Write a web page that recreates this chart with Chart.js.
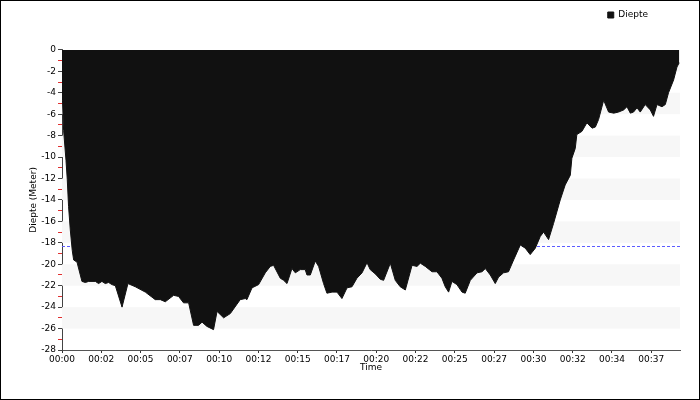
<!DOCTYPE html>
<html>
<head>
<meta charset="utf-8">
<script src="https://cdn.jsdelivr.net/npm/chart.js@4"></script>
<style>
  html, body { margin: 0; padding: 0; background: #fff; }
</style>
</head>
<body>
<canvas id="chart" width="700" height="400"></canvas>
<script>
// Dive profile, time in minutes, depth in meters.
const times = [
  0, 0.02, 0.04, 0.10, 0.25, 0.33, 0.41, 0.52, 0.64, 0.73,
  0.94, 1.25, 1.46, 1.67, 2.09, 2.29, 2.50, 2.71, 2.92, 3.13,
  3.34, 3.76, 4.13, 4.59, 5.22, 5.84, 6.16, 6.47, 6.99, 7.30,
  7.61, 7.93, 8.24, 8.55, 8.77, 9.08, 9.49, 9.71, 10.12, 10.54,
  11.16, 11.48, 11.58, 11.90, 12.31, 12.73, 13.04, 13.25, 13.67, 13.88,
  14.09, 14.40, 14.61, 14.92, 15.23, 15.34, 15.55, 15.86, 16.07, 16.38,
  16.59, 16.91, 17.22, 17.53, 17.85, 18.16, 18.47, 18.79, 19.10, 19.30,
  19.62, 19.93, 20.14, 20.56, 20.87, 21.18, 21.50, 21.92, 22.23, 22.44,
  22.75, 23.17, 23.48, 23.79, 24.00, 24.21, 24.42, 24.73, 25.05, 25.25,
  25.57, 25.99, 26.30, 26.51, 26.82, 27.13, 27.34, 27.65, 27.96, 28.28,
  28.70, 29.01, 29.32, 29.64, 29.95, 30.16, 30.47, 30.78, 31.20, 31.51,
  31.83, 31.93, 32.14, 32.24, 32.56, 32.87, 33.19, 33.40, 33.60, 33.92,
  34.23, 34.55, 34.85, 35.17, 35.38, 35.59, 35.79, 36.01, 36.21, 36.52,
  36.84, 37.04, 37.26, 37.57, 37.78, 37.98, 38.30, 38.51, 38.65,
];
const depths = [
  0, -2.8, -4.7, -7.5, -10.3, -12.1, -14.6, -16.8, -18.7, -19.6,
  -19.8, -21.6, -21.7, -21.6, -21.6, -21.8, -21.6, -21.8, -21.7, -21.9,
  -22.0, -24.0, -21.8, -22.1, -22.6, -23.3, -23.3, -23.5, -22.9, -23.0,
  -23.6, -23.6, -25.7, -25.7, -25.4, -25.8, -26.1, -24.4, -25.0, -24.6,
  -23.3, -23.2, -23.3, -22.2, -21.9, -20.8, -20.2, -20.1, -21.3, -21.5,
  -21.8, -20.4, -20.8, -20.5, -20.5, -21.0, -21.0, -19.7, -20.2, -21.8,
  -22.7, -22.6, -22.6, -23.2, -22.2, -22.1, -21.3, -20.8, -19.85, -20.5,
  -20.9, -21.4, -21.5, -19.9, -21.5, -22.1, -22.4, -20.1, -20.2, -19.9,
  -20.2, -20.7, -20.7, -21.3, -22.1, -22.6, -21.6, -21.9, -22.6, -22.7,
  -21.5, -20.8, -20.7, -20.4, -21.0, -21.8, -21.2, -20.8, -20.7, -19.6,
  -18.2, -18.5, -19.1, -18.5, -17.4, -17.0, -17.7, -16.2, -14.0, -12.6,
  -11.7, -10.1, -9.2, -7.9, -7.6, -6.8, -7.3, -7.2, -6.5, -4.7,
  -5.8, -5.9, -5.8, -5.6, -5.3, -5.9, -5.8, -5.4, -5.8, -5.1,
  -5.6, -6.2, -5.1, -5.3, -5.1, -4.0, -2.8, -1.6, -1.2,
];

// X tick labels, one every tickStep minutes.
const tickLabels = [
  "00:00", "00:02", "00:05", "00:07", "00:10", "00:12", "00:15", "00:17",
  "00:20", "00:22", "00:25", "00:27", "00:30", "00:32", "00:34", "00:37",
];
const tickStep = 2.46;
const timeMax = 38.7;

// Alternating light bands behind the profile, and the dashed reference depth.
const stripeBands = [
  [-26, -24], [-22, -20], [-18, -16], [-14, -12], [-10, -8], [-6, -4], [-2, 0],
];
const refDepth = -18.3;

const backdrop = {
  id: "backdrop",
  beforeDatasetsDraw(chart) {
    const { ctx, chartArea: area, scales } = chart;
    const y = scales.y;
    ctx.save();
    ctx.fillStyle = "#f7f7f7";
    stripeBands.forEach(([lo, hi]) => {
      const top = y.getPixelForValue(hi);
      const bottom = y.getPixelForValue(lo);
      ctx.fillRect(area.left, top, area.right - area.left, bottom - top);
    });
    // Reference depth line, hidden under the filled profile.
    const ry = Math.round(y.getPixelForValue(refDepth)) + 0.5;
    ctx.strokeStyle = "#5c5cff";
    ctx.lineWidth = 1;
    ctx.setLineDash([3, 2]);
    ctx.beginPath();
    ctx.moveTo(area.left, ry);
    ctx.lineTo(area.right, ry);
    ctx.stroke();
    ctx.restore();
  },
  afterDraw(chart) {
    const ctx = chart.ctx;
    ctx.save();
    ctx.strokeStyle = "#000";
    ctx.lineWidth = 1;
    ctx.strokeRect(0.5, 0.5, chart.width - 1, chart.height - 1);
    ctx.restore();
  },
};

Chart.defaults.font.family = "'DejaVu Sans', sans-serif";
Chart.defaults.font.size = 9;
Chart.defaults.color = "#000";

const ctx = document.getElementById("chart").getContext("2d");

new Chart(ctx, {
  type: "line",
  data: {
    datasets: [
      {
        label: "Diepte",
        data: times.map((t, i) => ({ x: t, y: depths[i] })),
        borderColor: "#111111",
        backgroundColor: "#111111",
        borderWidth: 1,
        fill: "origin",
        pointRadius: 0,
        tension: 0,
      },
    ],
  },
  options: {
    responsive: false,
    animation: false,
    layout: {
      padding: { top: -21.5, right: 20, bottom: 27, left: 20 },
    },
    plugins: {
      legend: {
        position: "top",
        align: "end",
        labels: {
          boxWidth: 6,
          boxHeight: 6,
          padding: 32,
          font: { size: 9 },
        },
      },
      // Empty spacer between the legend and the plot.
      subtitle: {
        display: true,
        text: "",
        weight: 500,
        padding: 0,
        font: { size: 17 },
      },
      tooltip: { enabled: false },
    },
    scales: {
      x: {
        type: "linear",
        min: 0,
        max: timeMax,
        afterBuildTicks(scale) {
          scale.ticks = tickLabels.map((_, i) => ({ value: i * tickStep }));
        },
        afterFit(scale) {
          scale.height = 23;
        },
        ticks: {
          autoSkip: false,
          maxRotation: 0,
          padding: 1,
          callback: (value, index) => tickLabels[index],
        },
        grid: {
          drawOnChartArea: false,
          tickLength: 3,
          color: "#333",
        },
        border: { color: "#555", dash: [1, 1] },
        title: {
          display: true,
          text: "Time",
          padding: { top: 0, bottom: 0 },
        },
      },
      y: {
        min: -28,
        max: 0,
        afterFit(scale) {
          scale.width = 42;
        },
        ticks: {
          stepSize: 1,
          autoSkip: false,
          padding: 2,
          callback: (value) => (value % 2 === 0 ? value : ""),
        },
        grid: {
          drawOnChartArea: false,
          tickLength: 4,
          color: (c) => (c.tick && c.tick.value % 2 ? "#e03030" : "#444"),
        },
        border: { color: "#444" },
        title: {
          display: true,
          text: "Diepte (Meter)",
          padding: { top: 8, bottom: 0 },
        },
      },
    },
  },
  plugins: [backdrop],
});
</script>
</body>
</html>
